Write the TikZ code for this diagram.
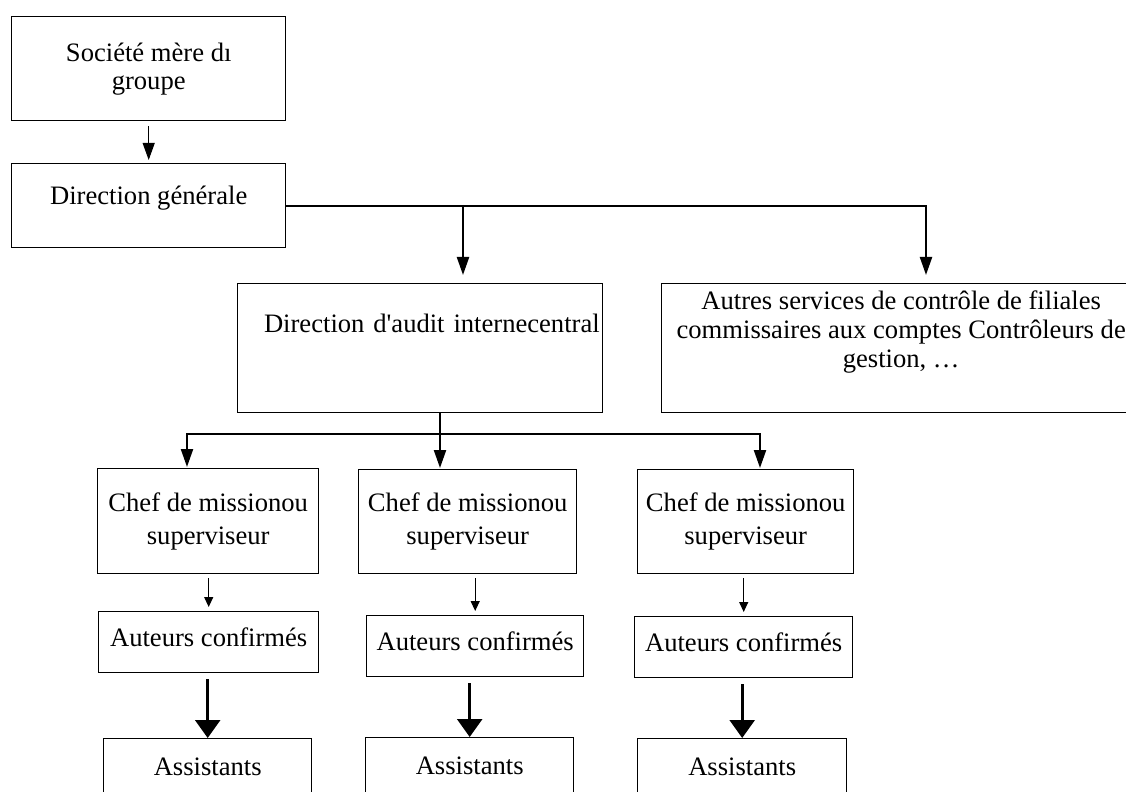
\documentclass[tikz,border=0pt]{standalone}
\usepackage{fontspec}
\setmainfont{Liberation Serif}
\usetikzlibrary{arrows.meta}

\begin{document}
\begin{tikzpicture}[x=0.5pt,y=-0.5pt,
        box/.style={draw, line width=0.7pt, anchor=north west, inner sep=0pt, align=center,
            font=\fontsize{13.3}{14}\selectfont},
        oneline/.style={box, text height=0.7em, text depth=0.25em},
        thinarrow/.style={-{Triangle[length=8.5pt,width=6pt]}, line width=0.5pt},
        busarrow/.style={-{Triangle[length=9pt,width=6pt]}, line width=1.1pt},
        smallarrow/.style={-{Triangle[length=5pt,width=4.5pt]}, line width=0.6pt},
        bigarrow/.style={-{Triangle[length=9pt,width=12.5pt]}, line width=1.3pt}]
        \useasboundingbox (0,0) rectangle (1126,792);
        \clip (0,0) rectangle (1126,792);

        % top of the chart
        \node[box, minimum width=137pt, minimum height=52pt] (soc) at (11,16) {Société mère dı\\groupe};
        \node[oneline, minimum width=137pt, minimum height=42pt, text depth=0.85em] (dg) at (11,163) {Direction générale};
        \node[oneline, minimum width=182.5pt, minimum height=64.5pt, text width=179.5pt, align=right, text depth=2.24em] (audit) at (237,283) {Direction d\textquotesingle audit internecentral};
        \node[box, minimum width=239.5pt, minimum height=64.5pt, font=\fontsize{13.3}{14.5}\selectfont, text height=42pt, text depth=22.5pt] (autres) at (661,283) {Autres services de contrôle de filiales\\commissaires aux comptes Contrôleurs de\\gestion, …};

        % the three teams
        \node[box, minimum width=110.5pt, minimum height=52.5pt, font=\fontsize{13.3}{16.5}\selectfont] (chef1) at (97,468) {Chef de missionou\\superviseur};
        \node[box, minimum width=109pt, minimum height=52pt, font=\fontsize{13.3}{16.5}\selectfont] (chef2) at (358,469) {Chef de missionou\\superviseur};
        \node[box, minimum width=108pt, minimum height=52pt, font=\fontsize{13.3}{16.5}\selectfont] (chef3) at (637,469) {Chef de missionou\\superviseur};

        \node[oneline, minimum width=110pt, minimum height=30.5pt] (aut1) at (98,611) {Auteurs confirmés};
        \node[oneline, minimum width=108.5pt, minimum height=30.5pt] (aut2) at (366,615) {Auteurs confirmés};
        \node[oneline, minimum width=109pt, minimum height=30.5pt] (aut3) at (634,616) {Auteurs confirmés};

        \node[oneline, minimum width=104pt, minimum height=31pt, text depth=0.1em] (asst1) at (103,738) {Assistants};
        \node[oneline, minimum width=104pt, minimum height=31pt, text depth=0.1em] (asst2) at (365,737) {Assistants};
        \node[oneline, minimum width=104.5pt, minimum height=31pt, text depth=0.1em] (asst3) at (637,738) {Assistants};

        % connectors
        \coordinate (busA) at (463,205);
        \coordinate (busB) at (926,205);
        \coordinate (b1) at (187,434);
        \coordinate (b2) at (440,434);
        \coordinate (b3) at (760,434);

        \draw[thinarrow, shorten <=2.5pt, shorten >=1.5pt] (soc.south) -- (dg.north);
        \draw[busarrow, shorten >=4pt] (dg.east) -| (busB |- autres.north);
        \draw[busarrow, shorten >=4pt] (busA) -- (busA |- audit.north);

        \draw[busarrow, shorten >=0.5pt] (b2 |- audit.south) -- (b2 |- chef2.north);
        \draw[busarrow, shorten >=0.5pt] (b2) -| (b1 |- chef1.north);
        \draw[busarrow, shorten >=0.5pt] (b2) -| (b3 |- chef3.north);

        \draw[smallarrow, shorten <=2pt, shorten >=2pt] (aut1.north |- chef1.south) -- (aut1.north);
        \draw[smallarrow, shorten <=2pt, shorten >=2pt] (aut2.north |- chef2.south) -- (aut2.north);
        \draw[smallarrow, shorten <=2pt, shorten >=2pt] (aut3.north |- chef3.south) -- (aut3.north);

        \draw[bigarrow, shorten <=3pt] (asst1.north |- aut1.south) -- (asst1.north);
        \draw[bigarrow, shorten <=3pt] (asst2.north |- aut2.south) -- (asst2.north);
        \draw[bigarrow, shorten <=3pt] (asst3.north |- aut3.south) -- (asst3.north);
\end{tikzpicture}
\end{document}
